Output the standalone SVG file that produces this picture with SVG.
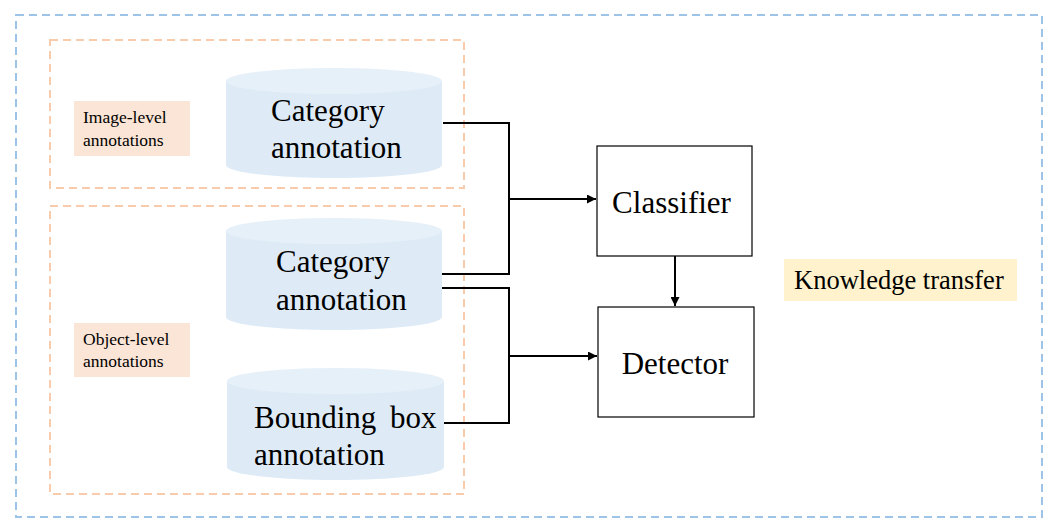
<svg xmlns="http://www.w3.org/2000/svg" width="1058" height="532" viewBox="0 0 1058 532">
<style>
.outer{fill:none;stroke:#9DC3E6;stroke-width:2;stroke-dasharray:8 5}
.grp{fill:none;stroke:#F8CBAD;stroke-width:2;stroke-dasharray:8 5}
.cylb{fill:#DEEBF7}
.cylt{fill:#E6F0F9}
.lbl{fill:#FBE5D6}
.t{font-family:"Liberation Serif","Times New Roman",serif;fill:#000}
.big{font-size:31px}
.small{font-size:17.5px}
.box{fill:#fff;stroke:#000;stroke-width:1.2}
.conn{fill:none;stroke:#000;stroke-width:2}
</style>
<defs>
<marker id="ah" viewBox="0 0 10 10" refX="10" refY="5" markerWidth="4.5" markerHeight="4.5" orient="auto" markerUnits="strokeWidth">
<path d="M0,0 L10,5 L0,10 z" fill="#000"/>
</marker>
</defs>
<rect width="1058" height="532" fill="#fff"/>
<rect class="outer" x="16" y="15" width="1026" height="502"/>
<g id="image-level-group">
<rect class="grp" x="50" y="40" width="414" height="148"/>
</g>
<g id="object-level-group">
<rect class="grp" x="50" y="206" width="414" height="288"/>
</g>
<g id="image-level-label">
<rect class="lbl" x="74" y="101" width="116" height="55"/>
<text class="t small" x="83" y="123">Image-level</text>
<text class="t small" x="83" y="146">annotations</text>
</g>
<g id="object-level-label">
<rect class="lbl" x="74" y="323" width="116" height="54"/>
<text class="t small" x="83" y="345">Object-level</text>
<text class="t small" x="83" y="367">annotations</text>
</g>
<g id="cyl1">
<path class="cylb" d="M226,81 L226,165 A108,13 0 0 0 442,165 L442,81 Z"/>
<ellipse class="cylt" cx="334" cy="81" rx="108" ry="13"/>
<text class="t big" x="271" y="121">Category</text>
<text class="t big" x="271" y="158">annotation</text>
</g>
<g id="cyl2">
<path class="cylb" d="M226,231 L226,317 A108,13 0 0 0 442,317 L442,231 Z"/>
<ellipse class="cylt" cx="334" cy="231" rx="108" ry="13"/>
<text class="t big" x="276" y="272">Category</text>
<text class="t big" x="276" y="310">annotation</text>
</g>
<g id="cyl3">
<path class="cylb" d="M227,381 L227,467 A108.5,13 0 0 0 444,467 L444,381 Z"/>
<ellipse class="cylt" cx="335.5" cy="381" rx="108.5" ry="13"/>
<text class="t big" x="254" y="428" word-spacing="6">Bounding box</text>
<text class="t big" x="254" y="465">annotation</text>
</g>
<g id="classifier">
<rect class="box" x="597" y="146" width="155" height="110"/>
<text class="t big" x="671.5" y="213" text-anchor="middle">Classifier</text>
</g>
<g id="detector">
<rect class="box" x="598" y="307" width="156" height="110"/>
<text class="t big" x="675" y="374" text-anchor="middle">Detector</text>
</g>
<g id="knowledge-transfer">
<rect x="784" y="259" width="233" height="42" fill="#FFF2CC"/>
<text class="t" font-size="26.5" x="794" y="289">Knowledge transfer</text>
</g>
<g id="connectors">
<polyline class="conn" points="443,123 509,123 509,274 442,274"/>
<line class="conn" x1="509" y1="199" x2="596" y2="199" marker-end="url(#ah)"/>
<polyline class="conn" points="442,288 509,288 509,423 444,423"/>
<line class="conn" x1="509" y1="356" x2="597" y2="356" marker-end="url(#ah)"/>
<line class="conn" x1="675" y1="256" x2="675" y2="306" marker-end="url(#ah)"/>
</g>
</svg>
